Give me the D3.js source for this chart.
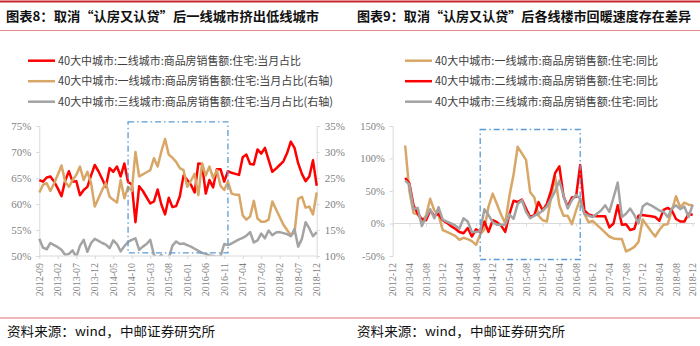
<!DOCTYPE html>
<html><head><meta charset="utf-8">
<script src="https://cdn.jsdelivr.net/npm/d3@7"></script>
<style>body{margin:0;background:#fff}svg{display:block}</style>
</head><body>
<svg id="c" width="700" height="346"></svg>
<script>
// ---------- DATA ----------
const leftTitle = "图表8：取消“认房又认贷”后一线城市挤出低线城市";
const rightTitle = "图表9：取消“认房又认贷”后各线楼市回暖速度存在差异";
const sourceText = "资料来源：wind，中邮证券研究所";

const leftStart = "2012-09", leftEnd = "2018-12";
const leftTicks = ["2012-09","2013-02","2013-07","2013-12","2014-05","2014-10","2015-03","2015-08","2016-01","2016-06","2016-11","2017-04","2017-09","2018-02","2018-07","2018-12"];
const leftYTicks = [50,55,60,65,70,75];
const leftY2Ticks = [10,15,20,25,30,35];
const leftNames = ["40大中城市:二线城市:商品房销售额:住宅:当月占比","40大中城市:一线城市:商品房销售额:住宅:当月占比(右轴)","40大中城市:三线城市:商品房销售额:住宅:当月占比(右轴)"];
const leftRed = [64.6,64.3,65.1,65.3,64.3,63.0,61.5,64.5,66.3,64.3,64.4,61.7,62.7,63.3,65.5,67.5,66.3,64.8,63.3,66.9,66.2,67.2,65.3,67.8,64.2,63.8,56.5,63.4,62.5,61.3,60.1,60.5,62.8,59.9,58.0,61.2,59.4,59.6,61.5,65.5,64.6,63.7,62.2,67.8,67.7,62.0,64.6,63.2,66.7,66.7,64.3,66.3,66.0,65.8,65.6,69.0,69.5,67.7,67.6,70.5,69.7,70.8,68.5,66.2,66.8,67.5,68.2,69.8,72.0,70.8,67.8,65.8,64.4,65.3,68.4,63.5];
const leftTan = [22.2,23.7,24.0,22.5,24.0,25.6,27.4,24.3,23.3,24.6,25.6,27.2,24.6,26.2,24.0,19.5,21.1,22.7,24.0,21.4,20.8,20.3,24.6,21.1,23.3,22.5,30.0,25.3,25.7,26.1,26.5,28.8,27.2,30.1,32.5,29.5,28.9,28.1,26.9,26.5,23.3,24.5,25.8,21.7,27.8,25.5,27.2,25.0,26.5,23.5,22.7,24.3,22.0,21.8,21.8,17.8,17.0,17.6,20.6,17.2,16.6,16.6,17.0,20.5,19.0,17.5,16.0,15.0,14.0,14.5,21.0,21.4,19.3,19.5,18.0,22.2];
const leftGray = [13.3,11.6,11.3,12.5,12.1,11.7,11.2,10.2,10.4,11.1,9.8,12.0,13.1,10.8,12.5,13.3,12.9,12.5,12.2,11.5,13.0,12.3,10.9,11.9,12.7,13.1,13.4,11.2,11.8,12.3,13.1,10.2,9.6,10.2,9.3,9.6,12.0,12.8,12.3,12.4,12.1,11.8,11.4,11.0,10.6,10.4,10.1,10.0,9.8,10.0,12.3,12.1,12.4,12.8,13.2,13.5,13.9,14.6,12.6,13.0,14.3,13.4,14.9,14.0,14.5,14.6,14.4,14.2,13.8,15.2,11.8,13.3,16.5,15.3,13.8,14.6];
const leftBox = {from:"2014-09", to:"2016-12", top:75.8, bottom:50.6};

const rightAxisStart = "2012-12", rightDataStart = "2013-03", rightEnd = "2018-12";
const rightTicks = ["2012-12","2013-04","2013-08","2013-12","2014-04","2014-08","2014-12","2015-04","2015-08","2015-12","2016-04","2016-08","2016-12","2017-04","2017-08","2017-12","2018-04","2018-08","2018-12"];
const rightYTicks = [-50,0,50,100,150];
const rightNames = ["40大中城市:一线城市:商品房销售额:住宅:同比","40大中城市:二线城市:商品房销售额:住宅:同比","40大中城市:三线城市:商品房销售额:住宅:同比"];
const rightTan = [120,50,16,14,4,12,38,20,13,-10,-13,-16,-19,-25,-22,-24,-27,-33,-17,-9,26,46,30,14,0,42,75,118,108,98,48,40,12,5,3,40,72,28,12,12,-1,20,38,15,2,4,-2,-8,-14,-20,-23,-24,-24,-43,-40,-36,-28,6,-3,-12,-20,-10,-2,-1,20,42,25,32,29,28];
const rightRed = [70,62,28,15,7,5,20,12,15,5,1,-4,-8,-13,-15,-7,-20,-9,-13,3,-13,5,2,-3,-13,14,35,33,37,23,10,13,33,20,30,50,78,88,42,26,40,41,90,20,14,12,11,11,11,-6,0,28,-2,-1,-10,-8,12,13,12,11,10,4,21,24,20,7,3,3,15,13];
const rightGray = [66,60,22,24,-4,10,22,8,25,6,3,0,-3,-8,8,3,-13,-13,-12,22,13,2,-2,-2,-2,14,7,30,36,18,8,12,15,20,26,38,50,66,43,23,36,44,38,15,12,10,15,20,28,18,40,63,10,15,23,13,0,26,31,28,24,20,18,10,23,28,22,26,10,29];
const rightBox = {from:"2014-09", to:"2016-09", top:144.6, bottom:-55.4};

const RED = "#ff0000", TAN = "#d8a767", GRAY = "#a3a3a3";

// ---------- HELPERS ----------
const fmt = d3.timeFormat("%Y-%m"), parse = d3.timeParse("%Y-%m");
function monthsBetween(a, b) {
  return d3.timeMonth.range(parse(a), d3.timeMonth.offset(parse(b), 1)).map(fmt);
}
const svg = d3.select("#c");
const CJK = "'Noto Sans CJK SC', 'Noto Sans', sans-serif";
const SERIF = "'Liberation Serif', 'DejaVu Serif', serif";

// frame lines
[[1.5,"#c8282e",2],[30.5,"#e48a8a",1],[318,"#e07070",1]].forEach(([y,c,w]) => {
  svg.append("line").attr("x1",0).attr("x2",700).attr("y1",y).attr("y2",y)
    .attr("stroke",c).attr("stroke-width",w);
});
// titles & sources
[[6,leftTitle,313],[357,rightTitle,334]].forEach(([x,t,len]) => {
  svg.append("text").attr("x",x).attr("y",21).text(t)
    .attr("textLength",len).attr("lengthAdjust","spacingAndGlyphs")
    .attr("font-family",CJK).attr("font-weight","bold").attr("font-size",13).attr("fill","#111");
});
[[7,sourceText],[357,sourceText]].forEach(([x,t]) => {
  svg.append("text").attr("x",x).attr("y",336).text(t)
    .attr("textLength",208).attr("lengthAdjust","spacingAndGlyphs")
    .attr("font-family",CJK).attr("font-size",13).attr("fill","#111");
});

function legend(x0, y0, items) {
  items.forEach((it, i) => {
    const y = y0 + i * 20.5;
    svg.append("line").attr("x1",x0).attr("x2",x0+27).attr("y1",y).attr("y2",y)
      .attr("stroke",it.color).attr("stroke-width",2.5);
    svg.append("text").attr("x",x0+30).attr("y",y+4).text(it.name)
      .attr("textLength",it.len).attr("lengthAdjust","spacingAndGlyphs")
      .attr("font-family",CJK).attr("font-size",11.5).attr("fill","#404040");
  });
}
function styleAxis(g, size) {
  g.select(".domain").attr("stroke","#d9d9d9");
  g.selectAll(".tick line").attr("stroke","#d9d9d9");
  g.selectAll(".tick text").attr("font-family",SERIF).attr("font-size",size).attr("fill","#7f7f7f");
}
function xLabels(x, ticks, yTop) {
  ticks.forEach(t => {
    svg.append("text").attr("transform",`translate(${x(t)},${yTop}) rotate(-90)`)
      .attr("text-anchor","end").attr("dominant-baseline","central")
      .attr("font-family",SERIF).attr("font-size",10).attr("fill","#7f7f7f").text(t);
  });
}
function box(x, y, b) {
  svg.append("rect").attr("x",x(b.from)).attr("y",y(b.top))
    .attr("width",x(b.to)-x(b.from)).attr("height",y(b.bottom)-y(b.top))
    .attr("fill","none").attr("stroke","#5b9bd5").attr("stroke-width",1.3)
    .attr("stroke-dasharray","6,3,1.5,3");
}

// ---------- LEFT CHART ----------
{
  const months = monthsBetween(leftStart, leftEnd);
  const top = 126, bottom = 256;
  const x = d3.scalePoint().domain(months).range([39.3, 316.7]);
  const y = d3.scaleLinear().domain([50,75]).range([bottom, top]);
  const y2 = d3.scaleLinear().domain([10,35]).range([bottom, top]);

  legend(28, 60.7, [{name:leftNames[0],color:RED,len:243},{name:leftNames[1],color:TAN,len:275},{name:leftNames[2],color:GRAY,len:275}]);

  const ga = svg.append("g").attr("transform",`translate(39.3,0)`)
    .call(d3.axisLeft(y).tickValues(leftYTicks).tickFormat(d=>d+"%").tickSize(3).tickPadding(5));
  styleAxis(ga, 11);
  const gb = svg.append("g").attr("transform",`translate(316.7,0)`)
    .call(d3.axisRight(y2).tickValues(leftY2Ticks).tickFormat(d=>d+"%").tickSize(3).tickPadding(5));
  styleAxis(gb, 11);
  const gx = svg.append("g").attr("transform",`translate(0,${bottom})`)
    .call(d3.axisBottom(x).tickValues(leftTicks).tickSize(3).tickFormat(""));
  styleAxis(gx, 10);
  gx.select(".domain").attr("d",`M39.3,0H316.7`);
  xLabels(x, leftTicks, 263);

  svg.append("clipPath").attr("id","clipL").append("rect")
    .attr("x",38).attr("y",top-3).attr("width",280).attr("height",bottom-top+2.5);
  const plot = svg.append("g").attr("clip-path","url(#clipL)");
  const draw = (vals, ys, color) => plot.append("path")
    .datum(vals.map((v,i)=>[months[i],v]))
    .attr("d", d3.line().x(d=>x(d[0])).y(d=>ys(d[1])))
    .attr("fill","none").attr("stroke",color).attr("stroke-width",2.5).attr("stroke-linejoin","round");
  draw(leftRed, y, RED);
  draw(leftTan, y2, TAN);
  draw(leftGray, y2, GRAY);
  box(x, y, leftBox);
}

// ---------- RIGHT CHART ----------
{
  const months = monthsBetween(rightAxisStart, rightEnd);
  const dataMonths = monthsBetween(rightDataStart, rightEnd);
  const top = 126, bottom = 256;
  const x = d3.scalePoint().domain(months).range([392.7, 692.7]);
  const y = d3.scaleLinear().domain([-50,150]).range([bottom, top]);

  legend(405, 60.7, [{name:rightNames[0],color:TAN,len:223},{name:rightNames[1],color:RED,len:223},{name:rightNames[2],color:GRAY,len:223}]);

  const ga = svg.append("g").attr("transform",`translate(392.7,0)`)
    .call(d3.axisLeft(y).tickValues(rightYTicks).tickFormat(d=>d+"%").tickSize(3).tickPadding(5));
  styleAxis(ga, 10.5);
  const gx = svg.append("g").attr("transform",`translate(0,${y(0)})`)
    .call(d3.axisBottom(x).tickValues(rightTicks).tickSize(3).tickFormat(""));
  styleAxis(gx, 10);
  gx.select(".domain").attr("d",`M392.7,0H695`);
  xLabels(x, rightTicks, 263);

  const draw = (vals, color) => svg.append("path")
    .datum(vals.map((v,i)=>[dataMonths[i],v]))
    .attr("d", d3.line().x(d=>x(d[0])).y(d=>y(d[1])))
    .attr("fill","none").attr("stroke",color).attr("stroke-width",2.5).attr("stroke-linejoin","round");
  draw(rightTan, TAN);
  draw(rightRed, RED);
  draw(rightGray, GRAY);
  box(x, y, rightBox);
}
</script>
</body></html>
